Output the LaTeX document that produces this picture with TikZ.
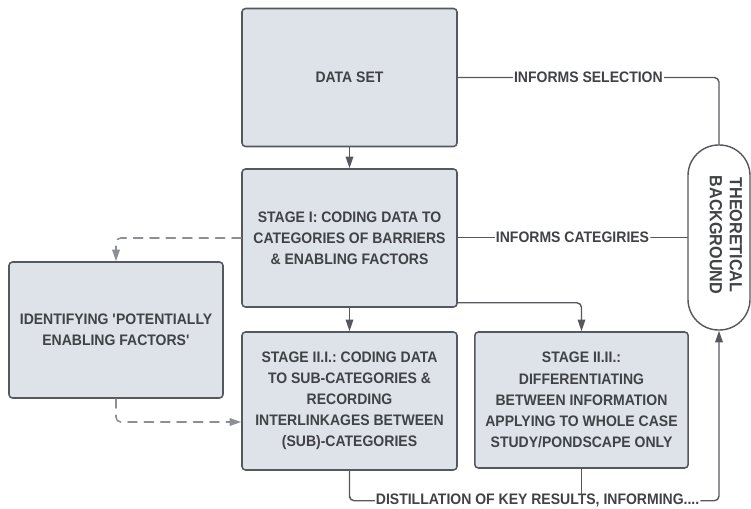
\documentclass[tikz,border=0pt]{standalone}
\usepackage{fontspec}
\setmainfont{Liberation Sans}[FakeStretch=0.92]
\usetikzlibrary{arrows.meta,positioning,calc}
\definecolor{boxfill}{HTML}{DEE2E9}
\definecolor{edgegray}{HTML}{55585D}
\definecolor{inkgray}{HTML}{404246}
\definecolor{dashgray}{HTML}{8C8F94}
\frenchspacing

\begin{document}
\begin{tikzpicture}[x=0.03cm,y=-0.03cm,>={Triangle[length=10pt,width=6.5pt]},line cap=round,
    stagebox/.style={draw=edgegray,fill=boxfill,line width=1.3pt,rounded corners=3pt,
      minimum width=6.45cm,minimum height=4.14cm,align=center,text=inkgray,
      font=\bfseries\fontsize{13}{18}\selectfont},
    tag/.style={fill=white,inner sep=1pt,text=inkgray,font=\bfseries\fontsize{13}{14}\selectfont},
    link/.style={draw=edgegray,line width=1.2pt,rounded corners=4pt},
    dlink/.style={draw=dashgray,line width=1.3pt,dash pattern=on 8pt off 6pt,rounded corners=4pt}]
  \useasboundingbox (0,0) rectangle (751,509);

  % boxes
  \node[stagebox] (ds)  at (349.5,77.5) {DATA SET};
  \node[stagebox] (s1)  at (349.5,238)  {STAGE I: CODING DATA TO\\CATEGORIES OF BARRIERS\\\& ENABLING FACTORS};
  \node[stagebox,minimum width=6.42cm,minimum height=4.08cm] (idf) at (116,330)
       {IDENTIFYING \textquotesingle POTENTIALLY\\ENABLING FACTORS\textquotesingle};
  \node[stagebox] (s21) at (349.5,401)  {STAGE II.I.: CODING DATA\\TO SUB-CATEGORIES \&\\RECORDING\\INTERLINKAGES BETWEEN\\(SUB)-CATEGORIES};
  \node[stagebox,minimum width=6.4cm,minimum height=4.08cm] (s22) at (581.5,400)
       {STAGE II.II.:\\DIFFERENTIATING\\BETWEEN INFORMATION\\APPLYING TO WHOLE CASE\\STUDY/PONDSCAPE ONLY};

  % theoretical background
  \node[draw=edgegray,fill=white,line width=1.2pt,rounded corners=0.92cm,
        minimum width=1.86cm,minimum height=5.55cm] (tb) at (719,237.5) {};
  \node[rotate=-90,align=center,text=inkgray,font=\bfseries\fontsize{15}{17}\selectfont]
       (tbtxt) at (726,235) {THEORETICAL\\BACKGROUND};

  % connectors
  \draw[link,->] (ds.south) -- (s1.north);
  \draw[link,->] (s1.south) -- (s21.north);
  \draw[link,->] ([yshift=0.15cm]s1.south east) -| (s22.north);
  \draw[link] (ds.east) -- node[tag] (lsel) {INFORMS SELECTION} (tb.north |- ds.east) -- (tb.north);
  \draw[link] (s1.east |- tb.west) -- node[tag] (lcat) {INFORMS CATEGIRIES} (tb.west);
  \coordinate (dl) at ($(s21.south)+(0,-0.9cm)$);
  \draw[link,->] (s21.south) |- (dl) -- node[tag,xshift=0.1cm] (ldist) {DISTILLATION OF KEY RESULTS, INFORMING....}
       (tb.south |- dl) -- (tb.south);
  \draw[link] (s22.south) -- (s22.south |- dl);
  \draw[dlink,->] (s1.west) -| (idf.north);
  \draw[dlink,->] (idf.south) |- ([yshift=-0.63cm]s21.west);
\end{tikzpicture}
\end{document}
